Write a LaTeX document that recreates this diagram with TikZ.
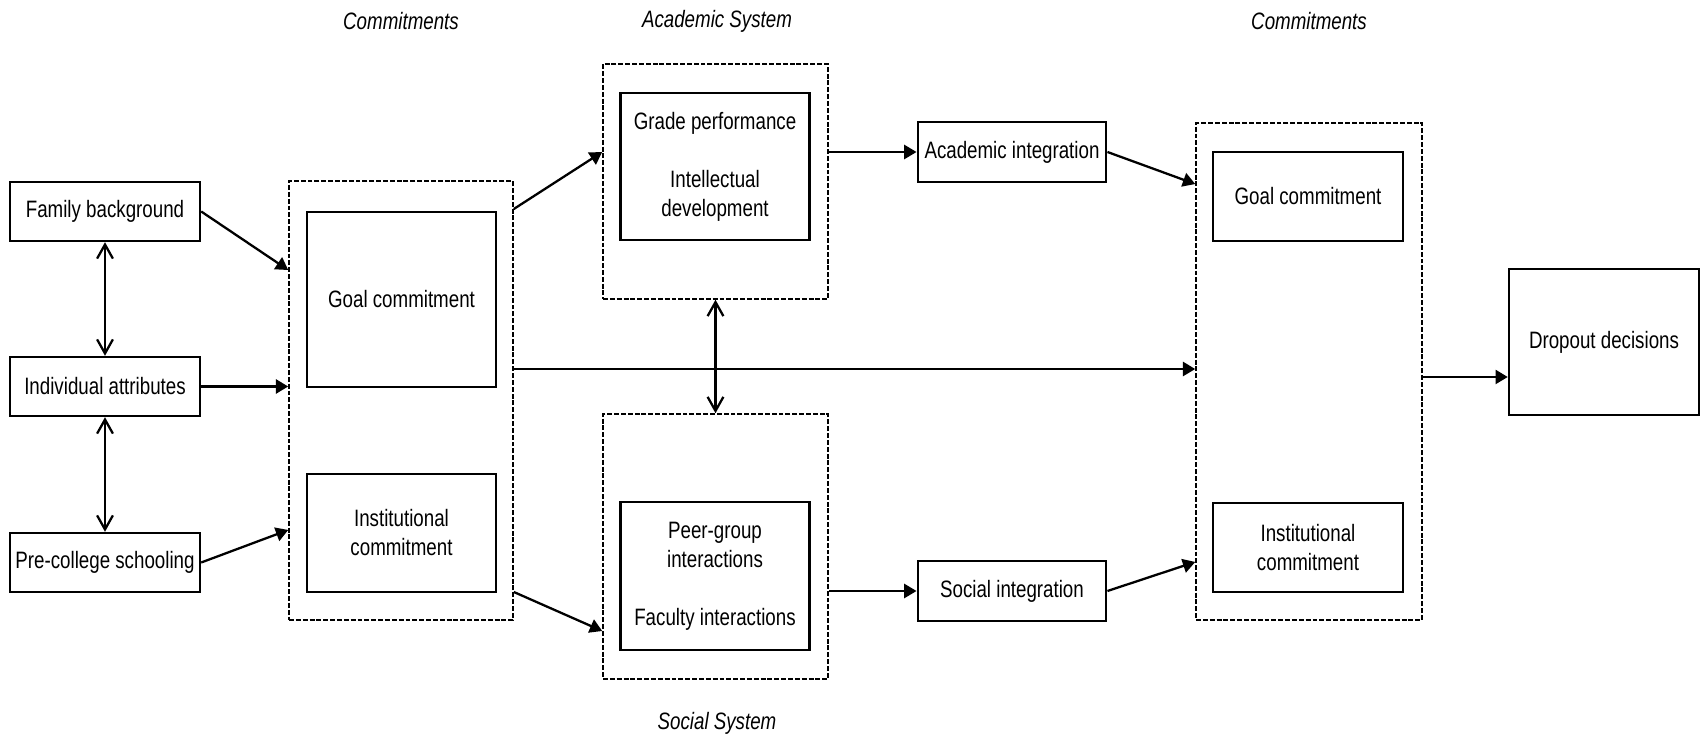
\documentclass[tikz,border=0pt]{standalone}
\usepackage{fontspec}
\setmainfont{Liberation Sans}[FakeStretch=0.79]
\usetikzlibrary{arrows.meta,calc}
\tikzset{box/.style={draw,line width=1.4pt,minimum width=3.8cm,minimum height=1.18cm,inner sep=1pt,align=center,font=\fontsize{13.5}{16.5}\selectfont},
 grp/.style={draw,line width=0.9pt,dash pattern=on 2.8pt off 1.1pt,inner sep=0pt},
 lbl/.style={font=\fontsize{13.5}{16.5}\selectfont\itshape},
 fw/.style={line width=1.3pt,-{Triangle[length=7pt,width=8pt]}},
 bi/.style={line width=1.3pt,{Straight Barb[length=8pt,width=9pt]}-{Straight Barb[length=8pt,width=9pt]}}}

\begin{document}
\begin{tikzpicture}[x=0.02cm,y=-0.02cm]
\useasboundingbox(0,0) rectangle (1701,739);
% background
\node[box](fam) at(105,211.5){Family background};
\node[box](ind) at(105,386.5){Individual attributes};
\node[box](pre) at(105,562.5){Pre-college schooling};
\draw[bi](fam)--(ind);\draw[bi](ind)--(pre);
% commitments (1)
\node[lbl](c1) at(401,21){Commitments};
\node[grp,minimum width=4.48cm,minimum height=8.78cm](commL) at(401,400.5){};
\node[box,minimum width=3.78cm,minimum height=3.5cm](goalL) at(401.5,299.5){Goal commitment};
\node[box,minimum width=3.78cm,minimum height=2.36cm](instL) at(401.5,533){Institutional\\commitment};
\draw[fw](fam.east)--([yshift=2.61cm]commL.west);
\draw[fw](ind.east)--(ind.east-|commL.west);
\draw[fw](pre.east)--([yshift=-2.59cm]commL.west);
% academic and social systems
\node[lbl](as) at(717,21){Academic System};
\node[grp,minimum width=4.5cm,minimum height=4.7cm](acad) at(715.5,181.5){};
\node[box,minimum width=3.78cm,minimum height=2.94cm](acadIn) at(715,166.5){Grade performance\\[16.5pt]Intellectual\\development};
\node[grp,minimum width=4.5cm,minimum height=5.3cm](social) at(715.5,546.5){};
\node[box,minimum width=3.78cm,minimum height=2.96cm](socIn) at(715,576){Peer-group\\interactions\\[16.5pt]Faculty interactions};
\node[lbl](ss) at(717,723){Social System};
\draw[bi](acad.south)--(social.north);
\draw[fw]([yshift=3.83cm]commL.east)--([yshift=0.59cm]acad.west);
\draw[fw]([yshift=-3.83cm]commL.east)--([yshift=-1.69cm]social.west);
% integration
\node[box,minimum width=3.77cm,minimum height=1.2cm](acadInt) at(1012,152){Academic integration};
\node[box,minimum width=3.77cm,minimum height=1.2cm](socInt) at(1012,591){Social integration};
\draw[fw](acadInt.west-|acad.east)--(acadInt.west);
\draw[fw](socInt.west-|social.east)--(socInt.west);
% commitments (2)
\node[lbl](c2) at(1309,21){Commitments};
\node[grp,minimum width=4.52cm,minimum height=9.94cm](commR) at(1309,371.5){};
\node[box,minimum height=1.78cm](goalR) at(1308,196.5){Goal commitment};
\node[box,minimum height=1.78cm](instR) at(1308,547.5){Institutional\\commitment};
\coordinate(mid) at([yshift=0.63cm]commL.east);
\draw[fw](mid)--(mid-|commR.west);
\draw[fw](acadInt.east)--([yshift=3.75cm]commR.west);
\draw[fw](socInt.east)--([yshift=-3.81cm]commR.west);
% outcome
\node[box,minimum height=2.92cm](drop) at(1604,342){Dropout decisions};
\coordinate(dd) at([yshift=-0.7cm]drop.west);
\draw[fw](dd-|commR.east)--(dd);
\end{tikzpicture}
\end{document}
